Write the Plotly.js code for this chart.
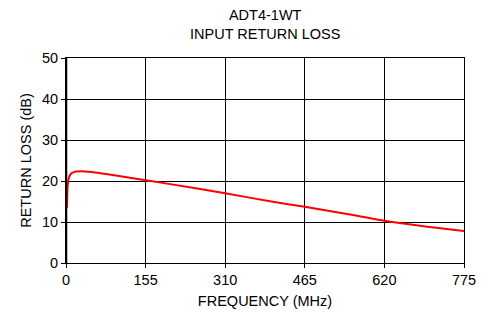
<!DOCTYPE html>
<html>
<head>
<meta charset="utf-8">
<script src="https://cdn.plot.ly/plotly-3.0.1.min.js"></script>
<style>html,body{margin:0;padding:0;background:#fff;}#chart{width:492px;height:314px;}</style>
</head>
<body>
<div id="chart"></div>
<script>
var freqMHz = [2, 3, 5, 8, 12, 20, 30, 50, 100, 155, 200, 310, 400, 465, 550, 620, 700, 775];
var returnLossDb = [13.5, 18.5, 20.5, 21.5, 22.0, 22.3, 22.4, 22.2, 21.3, 20.2, 19.3, 17.0, 15.0, 13.7, 11.9, 10.3, 8.9, 7.8];
var xTicks = [0, 155, 310, 465, 620, 775];
var yTicks = [0, 10, 20, 30, 40, 50];

var trace = {
  x: freqMHz, y: returnLossDb, type: 'scatter', mode: 'lines',
  line: {color: '#ff0000', width: 2, shape: 'spline', smoothing: 0.5},
  hoverinfo: 'skip'
};
var font = {family: 'Liberation Sans, Arial, sans-serif', size: 14.5, color: '#000'};
var layout = {
  width: 492, height: 314,
  margin: {l: 66, r: 28, t: 58, b: 51},
  paper_bgcolor: '#fff', plot_bgcolor: '#fff',
  showlegend: false,
  font: font,
  title: {text: 'ADT4-1WT<br>INPUT RETURN LOSS', font: font, x: 0.539, xanchor: 'center', yref: 'container', y: 0.937, yanchor: 'top'},
  xaxis: {
    range: [0, 775], tickvals: xTicks, ticktext: xTicks.map(String),
    showgrid: true, gridcolor: '#000', gridwidth: 1,
    showline: true, linecolor: '#000', linewidth: 1, mirror: true,
    ticks: 'outside', ticklen: 4, tickcolor: '#000',
    zeroline: false, tickfont: font,
    title: {text: 'FREQUENCY (MHz)', font: font, standoff: 8}
  },
  yaxis: {
    range: [0, 50], tickvals: yTicks, ticktext: yTicks.map(String),
    showgrid: true, gridcolor: '#000', gridwidth: 1,
    showline: true, linecolor: '#000', linewidth: 1, mirror: true,
    ticks: 'outside', ticklen: 4, tickcolor: '#000',
    zeroline: false, tickfont: font,
    title: {text: 'RETURN LOSS (dB)', font: font, standoff: 6}
  },
  shapes: [{type: 'line', xref: 'x', yref: 'paper', x0: 0, x1: 0, y0: 0, y1: 1, line: {color: '#000', width: 2.5}}]
};
Plotly.newPlot('chart', [trace], layout, {staticPlot: true, displayModeBar: false});
</script>
</body>
</html>
